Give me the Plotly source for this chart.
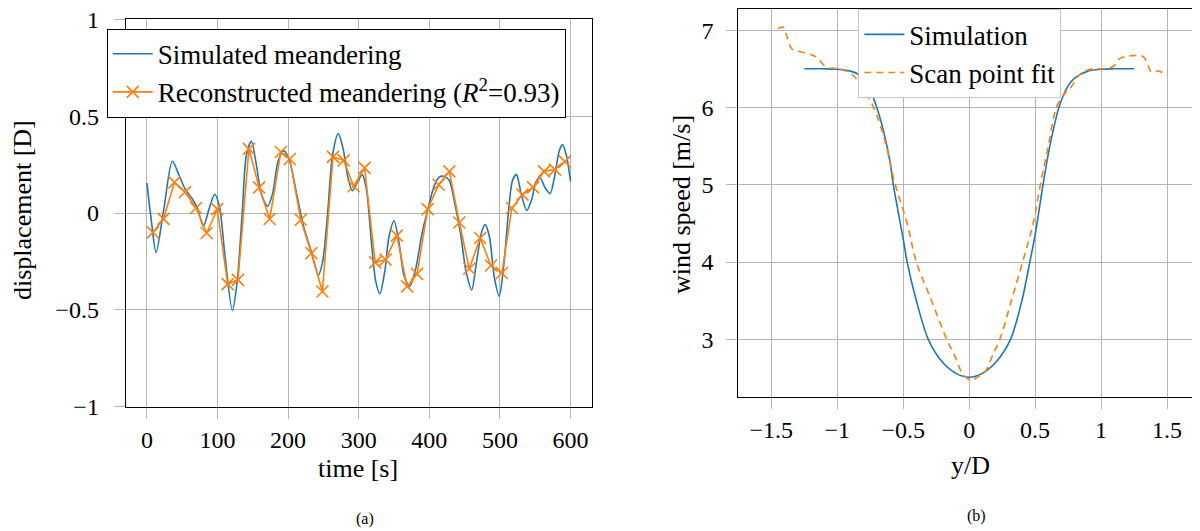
import plotly.graph_objects as go

# ---------------- data: panel (a) ----------------
sim_t = [0, 6, 13, 24, 36, 45, 54, 63, 71, 80, 88, 96, 103, 110, 121, 128, 135, 141, 148, 155,
         162, 171, 178, 186, 194, 202, 212, 222, 233, 243, 249, 256, 263, 271, 278, 285, 291,
         297, 305, 311, 318, 324, 330, 337, 343, 350, 357, 364, 372, 380, 390, 398, 407, 414,
         420, 428, 436, 444, 452, 460, 467, 474, 479, 485, 492, 499, 506, 512, 518, 523.5,
         530, 538, 545, 551, 557, 564, 571, 578, 584, 588.5, 594, 600]
sim_v = [0.155, -0.03, -0.204, 0.02, 0.267, 0.2, 0.125, 0.08, 0.03, -0.068, 0.02, 0.097, 0.03,
         -0.2, -0.503, -0.35, 0.0, 0.3, 0.37, 0.25, 0.1, 0.034, 0.1, 0.27, 0.322, 0.27, 0.1,
         -0.07, -0.2, -0.32, -0.25, 0.0, 0.3, 0.41, 0.33, 0.18, 0.115, 0.15, 0.198, 0.12, -0.15,
         -0.35, -0.417, -0.3, -0.12, -0.04, -0.15, -0.32, -0.38, -0.3, -0.1, 0.02, 0.14, 0.185,
         0.19, 0.17, 0.05, -0.1, -0.3, -0.397, -0.25, -0.1, -0.06, -0.12, -0.33, -0.43, -0.25,
         0.0, 0.17, 0.198, 0.1, 0.013, 0.07, 0.16, 0.181, 0.13, 0.1, 0.2, 0.32, 0.353, 0.3, 0.163]

rec_t = [8.5, 23.5, 39, 54, 69.6, 84.7, 99.7, 114.4, 129, 144.5, 159, 174, 189.7, 202.4, 218,
         233, 248.6, 263.6, 278.7, 292.8, 308.3, 323.4, 338, 354, 368.6, 382.7, 397.7, 413.3,
         428.4, 442.5, 456.6, 472, 487.3, 502.8, 517, 532, 547, 562.5, 578, 592]
rec_v = [-0.10, -0.03, 0.158, 0.108, 0.026, -0.103, 0.02, -0.367, -0.345, 0.331, 0.132, -0.031,
         0.315, 0.279, -0.035, -0.207, -0.405, 0.29, 0.272, 0.138, 0.233, -0.255, -0.241,
         -0.117, -0.379, -0.314, 0.02, 0.146, 0.215, -0.049, -0.288, -0.129, -0.271, -0.31,
         0.026, 0.095, 0.132, 0.215, 0.224, 0.265]

# ---------------- data: panel (b) ----------------
simb_y = [-1.25, -1.1, -1.0, -0.9, -0.85, -0.8, -0.75, -0.7, -0.65, -0.6, -0.575, -0.5, -0.47,
          -0.4, -0.31, -0.2, -0.1, 0.0, 0.1, 0.2, 0.314, 0.4, 0.46, 0.5, 0.56, 0.6, 0.65, 0.68,
          0.75, 0.8, 0.9, 1.0, 1.1, 1.25]
simb_v = [6.5, 6.5, 6.495, 6.47, 6.44, 6.36, 6.22, 6.0, 5.7, 5.3, 5.0, 4.3, 4.0, 3.5, 3.0, 2.7,
          2.56, 2.51, 2.56, 2.7, 3.0, 3.5, 4.0, 4.35, 5.0, 5.4, 5.8, 6.0, 6.28, 6.38, 6.47,
          6.495, 6.5, 6.5]

fit_y = [-1.45, -1.41, -1.38, -1.345, -1.28, -1.19, -1.15, -1.08, -0.98, -0.92, -0.87, -0.815,
         -0.75, -0.70, -0.64, -0.56, -0.47, -0.40, -0.285, -0.17, -0.1, -0.045, 0.02, 0.05,
         0.12, 0.18, 0.233, 0.32, 0.405, 0.485, 0.54, 0.6, 0.662, 0.72, 0.776, 0.81, 0.864,
         0.94, 1.015, 1.08, 1.117, 1.14, 1.167, 1.24, 1.318, 1.356, 1.38, 1.44, 1.48]
fit_v = [7.02, 7.04, 6.91, 6.76, 6.72, 6.68, 6.64, 6.52, 6.50, 6.46, 6.40, 6.27, 6.09, 5.90,
         5.58, 5.0, 4.5, 4.0, 3.5, 3.0, 2.75, 2.54, 2.47, 2.50, 2.58, 2.8, 3.0, 3.5, 4.0, 4.5,
         5.0, 5.5, 6.0, 6.17, 6.27, 6.37, 6.46, 6.50, 6.50, 6.52, 6.57, 6.63, 6.65, 6.67,
         6.66, 6.55, 6.46, 6.47, 6.43]

xa_ticks = [0, 100, 200, 300, 400, 500, 600]
ya_ticks = [-1, -0.5, 0, 0.5, 1]
ya_text = ["\u22121", "\u22120.5", "0", "0.5", "1"]
xb_ticks = [-1.5, -1, -0.5, 0, 0.5, 1, 1.5]
xb_text = ["\u22121.5", "\u22121", "\u22120.5", "0", "0.5", "1", "1.5"]
yb_ticks = [3, 4, 5, 6, 7]

BLUE = "#1f77b4"
ORANGE = "#ff7f0e"
FONT = "Liberation Serif"
OFF = 8  # page body margin
W, H = 1200 - OFF, 531 - OFF
GRID = "#b5b5b5"


def px(x):
    return (x - OFF) / W


def py(y):
    return 1 - (y - OFF) / H


fig = go.Figure()
fig.add_trace(go.Scatter(x=sim_t, y=sim_v, mode="lines", name="Simulated meandering",
                         line=dict(color=BLUE, width=1.6, shape="spline", smoothing=0.8),
                         xaxis="x", yaxis="y", legend="legend"))
fig.add_trace(go.Scatter(x=rec_t, y=rec_v, mode="lines+markers",
                         name="Reconstructed meandering (<i>R</i><sup>2</sup>=0.93)",
                         line=dict(color=ORANGE, width=1.6),
                         marker=dict(symbol="x-thin", size=12, color=ORANGE,
                                     line=dict(color=ORANGE, width=1.6)),
                         xaxis="x", yaxis="y", legend="legend"))
fig.add_trace(go.Scatter(x=simb_y, y=simb_v, mode="lines", name="Simulation",
                         line=dict(color=BLUE, width=1.6, shape="spline", smoothing=0.8),
                         xaxis="x2", yaxis="y2", legend="legend2"))
fig.add_trace(go.Scatter(x=fit_y, y=fit_v, mode="lines", name="Scan point fit",
                         line=dict(color=ORANGE, width=1.6, dash="7px,5px", shape="spline",
                                   smoothing=1.0),
                         xaxis="x2", yaxis="y2", legend="legend2"))

common = dict(showgrid=True, gridcolor=GRID, gridwidth=1, zeroline=False, ticks="outside",
              ticklen=11, tickcolor=GRID, tickwidth=1, showline=True, linecolor="black",
              linewidth=1, automargin=False, ticklabeloverflow="allow",
              tickfont=dict(family=FONT, size=24, color="black"))

fig.update_layout(
    width=W, height=H, margin=dict(l=0, r=0, t=0, b=0, pad=0),
    paper_bgcolor="white", plot_bgcolor="white", showlegend=True,
    xaxis=dict(domain=[px(125.7), px(591.7)], range=[-30, 630], tickvals=xa_ticks,
               anchor="y", mirror=True, ticklabelstandoff=0, **common),
    yaxis=dict(domain=[py(406.7), py(19.3)], range=[-1, 1], tickvals=ya_ticks, ticktext=ya_text,
               anchor="x", mirror=True, ticklabelstandoff=10, **common),
    xaxis2=dict(domain=[px(738.3), 1.0], range=[-1.75, 1.75], tickvals=xb_ticks, ticktext=xb_text,
                anchor="y2", mirror=True, ticklabelstandoff=0, **common),
    yaxis2=dict(domain=[py(397.3), py(9.3)], range=[2.25, 7.27], tickvals=yb_ticks,
                anchor="x2", mirror=False, ticklabelstandoff=8, **common),
    legend=dict(x=px(106.7), y=py(28.7), xanchor="left", yanchor="top", bgcolor="white",
                bordercolor="black", borderwidth=1, font=dict(family=FONT, size=27, color="black"),
                tracegroupgap=0, itemwidth=40),
    legend2=dict(x=px(858.3), y=py(9.3), xanchor="left", yanchor="top", bgcolor="white",
                 bordercolor="#c8c8c8", borderwidth=1, font=dict(family=FONT, size=27, color="black"),
                 tracegroupgap=0, itemwidth=40),
)

ann_font = dict(family=FONT, size=26, color="black")
annotations = [
    dict(text="displacement [D]", x=px(22), y=py(210), textangle=-90, font=ann_font),
    dict(text="time [s]", x=px(358), y=py(468), font=ann_font),
    dict(text="wind speed [m/s]", x=px(681), y=py(205), textangle=-90, font=ann_font),
    dict(text="y/D", x=px(970), y=py(465), font=ann_font),
    dict(text="(a)", x=px(365), y=py(519), font=dict(family=FONT, size=16, color="black")),
    dict(text="(b)", x=px(977), y=py(516), font=dict(family=FONT, size=16, color="black")),
]
for a in annotations:
    a.update(xref="paper", yref="paper", showarrow=False, xanchor="center", yanchor="middle")
fig.update_layout(annotations=annotations)

fig.write_html("out.html")
